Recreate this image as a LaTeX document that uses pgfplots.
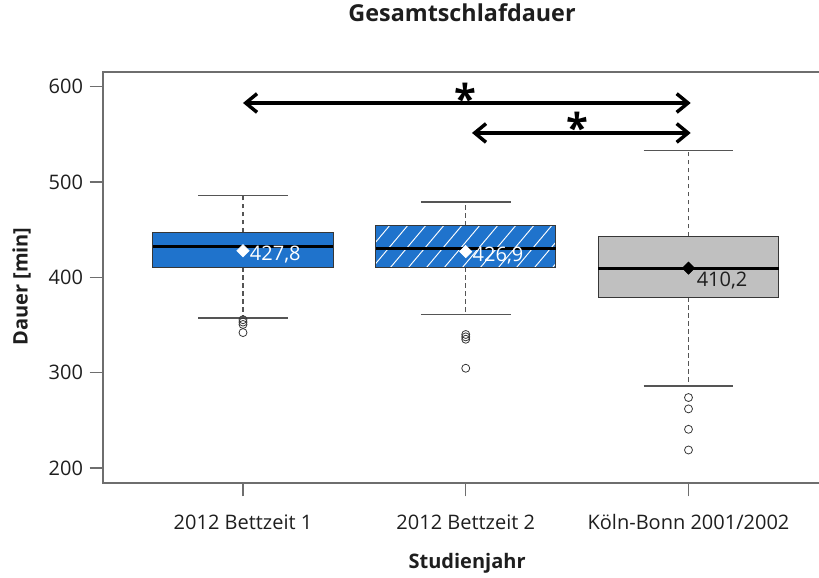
\documentclass[border=0pt]{standalone}
\usepackage{pgfplots}
\pgfplotsset{compat=1.18}
\usetikzlibrary{arrows.meta}
\usepackage{fontspec}
\setmainfont{Open Sans}
\definecolor{bblue}{RGB}{31,115,204}
\definecolor{bgray}{RGB}{192,192,192}
\definecolor{edge}{RGB}{55,55,55}
\definecolor{wcol}{RGB}{85,85,85}
\definecolor{axcol}{RGB}{110,110,110}
\definecolor{txt}{RGB}{30,30,30}
\begin{document}
\begin{tikzpicture}
\begin{axis}[
  scale only axis, width=540.75pt, height=308.25pt,
  xmin=0.3715, xmax=3.6083, ymin=184.3, ymax=615.2,
  xtick={1,2,3},
  xticklabels={2012 Bettzeit 1, 2012 Bettzeit 2, Köln-Bonn 2001/2002},
  ytick={200,300,400,500,600},
  tick align=outside, major tick length=10pt,
  xtick pos=left, ytick pos=left,
  axis line style={axcol, line width=1.1pt},
  tick style={axcol, line width=1pt},
  tick label style={font=\fontsize{15}{18}\selectfont, text=txt},
  xticklabel style={yshift=-10pt},
  yticklabel style={xshift=-1.5pt},
  /pgf/number format/assume math mode=true,
  xlabel={Studienjahr}, ylabel={Dauer [min]},
  label style={font=\bfseries\fontsize{15}{18}\selectfont, text=txt},
  xlabel style={at={(axis description cs:0.505,-0.196)}, anchor=center},
  ylabel style={at={(axis description cs:-0.113,0.478)}, anchor=center},
  title={Gesamtschlafdauer},
  title style={font=\bfseries\fontsize{17.5}{20}\selectfont, text=txt, at={(axis description cs:0.498,1.124)}, anchor=center},
  whisk/.style={wcol, line width=0.9pt, dash pattern=on 3.5pt off 2.5pt},
  cap/.style={wcol, line width=1.1pt},
  med/.style={black, line width=2.2pt},
  out/.style={only marks, mark=o, mark size=3pt, mark options={draw=edge, line width=0.6pt}},
]
% ---------- Box 1 ----------
\addplot[whisk] coordinates {(1,447) (1,485.6)};
\addplot[whisk] coordinates {(1,410.3) (1,357.1)};
\addplot[cap] coordinates {(0.798,485.6) (1.202,485.6)};
\addplot[cap] coordinates {(0.798,357.1) (1.202,357.1)};
\addplot[fill=bblue, draw=edge, line width=0.8pt] coordinates {(0.595,410.3) (1.405,410.3) (1.405,447) (0.595,447)} -- cycle;
\addplot[med] coordinates {(0.595,432.3) (1.405,432.3)};
\addplot[out] coordinates {(1,355.5) (1,353) (1,350.5) (1,342)};
% ---------- Box 2 ----------
\addplot[whisk] coordinates {(2,454) (2,479)};
\addplot[whisk] coordinates {(2,410.3) (2,361)};
\addplot[cap] coordinates {(1.798,479) (2.202,479)};
\addplot[cap] coordinates {(1.798,361) (2.202,361)};
\addplot[fill=bblue, draw=none] coordinates {(1.595,410.3) (2.405,410.3) (2.405,454) (1.595,454)} -- cycle;
\begin{scope}
\clip (axis cs:1.595,410.3) rectangle (axis cs:2.405,454);
\pgfplotsinvokeforeach{1.319,1.400,1.481,1.562,1.643,1.724,1.805,1.885,1.966,2.047,2.128,2.209,2.290,2.371}{
  \draw[white, line width=0.7pt] (axis cs:#1,405) -- ++(36.1pt,42.9pt);
}
\end{scope}
\addplot[draw=edge, line width=0.8pt] coordinates {(1.595,410.3) (2.405,410.3) (2.405,454) (1.595,454)} -- cycle;
\addplot[med] coordinates {(1.595,430) (2.405,430)};
\addplot[out] coordinates {(2,340) (2,337.5) (2,335) (2,304.6)};
% ---------- Box 3 ----------
\addplot[whisk] coordinates {(3,442.8) (3,532.8)};
\addplot[whisk] coordinates {(3,378.9) (3,286)};
\addplot[cap] coordinates {(2.798,532.8) (3.202,532.8)};
\addplot[cap] coordinates {(2.798,286) (3.202,286)};
\addplot[fill=bgray, draw=edge, line width=0.8pt] coordinates {(2.595,378.9) (3.405,378.9) (3.405,442.8) (2.595,442.8)} -- cycle;
\addplot[med] coordinates {(2.595,409.6) (3.405,409.6)};
\addplot[out] coordinates {(3,273.9) (3,262) (3,240.6) (3,218.9)};
% ---------- means ----------
\addplot[only marks, mark=square*, mark size=3.3pt, mark options={rotate=45, fill=white, draw=white},
  point meta=explicit symbolic, nodes near coords,
  every node near coord/.append style={anchor=west, text=white, inner sep=0pt, xshift=5pt, yshift=-3pt,
    font=\fontsize{15}{18}\selectfont}]
  table[row sep=\\, meta=label] {x y label\\ 1 427.8 {427,8}\\ 2 426.9 {426,9}\\};
\addplot[only marks, mark=square*, mark size=3.3pt, mark options={rotate=45, fill=black, draw=black},
  point meta=explicit symbolic, nodes near coords,
  every node near coord/.append style={anchor=west, text=txt, inner sep=0pt, xshift=6pt, yshift=-9pt,
    font=\fontsize{15}{18}\selectfont}]
  table[row sep=\\, meta=label] {x y label\\ 3 409.6 {410,2}\\};
% ---------- significance arrows ----------
\draw[black, line width=2.6pt, {Straight Barb[length=8.5pt,width=14pt]}-{Straight Barb[length=8.5pt,width=14pt]}]
  (axis cs:1.0,582.7) -- (axis cs:3.01,582.7);
\draw[black, line width=2.6pt, {Straight Barb[length=8.5pt,width=14pt]}-{Straight Barb[length=8.5pt,width=14pt]}]
  (axis cs:2.028,551.3) -- (axis cs:3.01,551.3);
\node[anchor=base, inner sep=0pt, font=\bfseries\fontsize{30}{32}\selectfont] at (axis cs:2.0,572) {*};
\node[anchor=base, inner sep=0pt, font=\bfseries\fontsize{30}{32}\selectfont] at (axis cs:2.5,541) {*};
\end{axis}
\pgfresetboundingbox
\path[use as bounding box] (-77.25pt,-71.25pt) rectangle (537pt,362.25pt);
\end{tikzpicture}
\end{document}
